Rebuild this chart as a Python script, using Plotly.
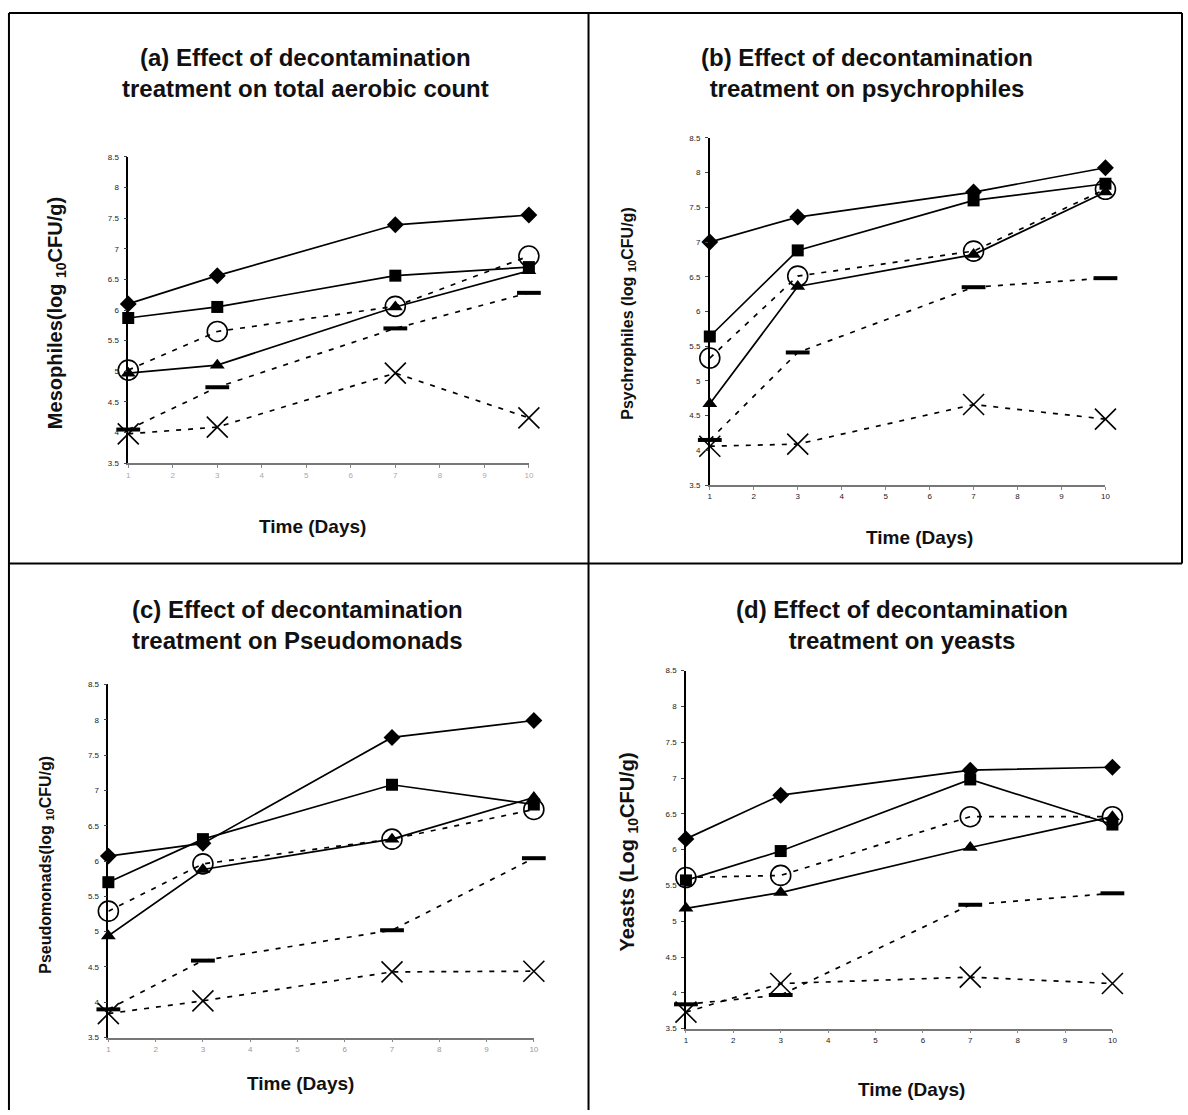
import plotly.graph_objects as go

days = [1, 3, 7, 10]
y_ticks = [3.5, 4, 4.5, 5, 5.5, 6, 6.5, 7, 7.5, 8, 8.5]
y_tick_text = ["3.5", "4", "4.5", "5", "5.5", "6", "6.5", "7", "7.5", "8", "8.5"]
x_ticks = [1, 2, 3, 4, 5, 6, 7, 8, 9, 10]

# (a) total aerobic count (mesophiles)
a_diamond = [6.10, 6.56, 7.39, 7.55]
a_square = [5.87, 6.05, 6.56, 6.70]
a_triangle = [4.97, 5.10, 6.05, 6.64]
a_circle = [5.02, 5.65, 6.06, 6.88]
a_dash = [4.05, 4.74, 5.70, 6.28]
a_cross = [3.98, 4.09, 4.97, 4.24]

# (b) psychrophiles
b_diamond = [7.00, 7.36, 7.72, 8.07]
b_square = [5.64, 6.88, 7.60, 7.84]
b_triangle = [4.67, 6.36, 6.82, 7.72]
b_circle = [5.33, 6.51, 6.87, 7.76]
b_dash = [4.15, 5.41, 6.35, 6.48]
b_cross = [4.06, 4.09, 4.66, 4.45]

# (c) Pseudomonads
c_diamond = [6.07, 6.25, 7.75, 7.99]
c_square = [5.70, 6.31, 7.08, 6.80]
c_triangle = [4.94, 5.88, 6.31, 6.90]
c_circle = [5.29, 5.96, 6.31, 6.73]
c_dash = [3.90, 4.59, 5.02, 6.04]
c_cross = [3.84, 4.02, 4.43, 4.44]

# (d) yeasts
d_diamond = [6.15, 6.76, 7.11, 7.15]
d_square = [5.57, 5.98, 6.98, 6.35]
d_triangle = [5.18, 5.40, 6.03, 6.46]
d_circle = [5.61, 5.64, 6.46, 6.46]
d_dash = [3.84, 3.97, 5.23, 5.39]
d_cross = [3.73, 4.13, 4.22, 4.13]

panels = [
    dict(key="a", series=[a_diamond, a_square, a_triangle, a_circle, a_dash, a_cross],
         title="(a) Effect of decontamination<br>treatment on total aerobic count",
         ytitle="Mesophiles(log <sub>10</sub>CFU/g)"),
    dict(key="b", series=[b_diamond, b_square, b_triangle, b_circle, b_dash, b_cross],
         title="(b) Effect of decontamination<br>treatment on psychrophiles",
         ytitle="Psychrophiles (log <sub>10</sub>CFU/g)"),
    dict(key="c", series=[c_diamond, c_square, c_triangle, c_circle, c_dash, c_cross],
         title="(c) Effect of decontamination<br>treatment on Pseudomonads",
         ytitle="Pseudomonads(log <sub>10</sub>CFU/g)"),
    dict(key="d", series=[d_diamond, d_square, d_triangle, d_circle, d_dash, d_cross],
         title="(d) Effect of decontamination<br>treatment on yeasts",
         ytitle="Yeasts (Log <sub>10</sub>CFU/g)"),
]

W, H = 1188, 1115
def px(x):
    return x / W
def py(y):
    return 1 - y / H

# layout geometry (pixels)
geom = {
    "a": dict(x0=127, x1=530, ytop=154, ybot=463, title_x=305, title_y=70,
              ytx=55, yty=312, ytsize=20, xtx=312, xty=527, xtcol="#aaa"),
    "b": dict(x0=712, x1=1110, ytop=135, ybot=485, title_x=870, title_y=70,
              ytx=630, yty=312, ytsize=16, xtx=923, xty=538, xtcol="#222"),
    "c": dict(x0=107, x1=535, ytop=686, ybot=1042, title_x=297, title_y=626,
              ytx=45, yty=868, ytsize=16, xtx=300, xty=1088, xtcol="#999"),
    "d": dict(x0=688, x1=1117, ytop=672, ybot=1033, title_x=905, title_y=626,
              ytx=630, yty=855, ytsize=20, xtx=915, xty=1094, xtcol="#222"),
}

styles = [
    dict(symbol="diamond", size=13, dash="solid", color="black", lw=0),
    dict(symbol="square", size=12, dash="solid", color="black", lw=0),
    dict(symbol="triangle-up", size=13, dash="solid", color="black", lw=0),
    dict(symbol="circle-open", size=20, dash="5px,7px", color="black", lw=1.6),
    dict(symbol="line-ew-open", size=17, dash="5px,7px", color="black", lw=4),
    dict(symbol="x-thin-open", size=21, dash="5px,7px", color="black", lw=1.6),
]
names = ["Diamond", "Square", "Triangle", "Circle", "Dash", "Cross"]

fig = go.Figure()
layout = dict(width=W, height=H, margin=dict(l=0, r=0, t=0, b=0),
              paper_bgcolor="white", plot_bgcolor="white", showlegend=False,
              font=dict(family="Liberation Sans, Arial, sans-serif", color="black"))
annotations = []
shapes = []

for i, p in enumerate(panels):
    g = geom[p["key"]]
    n = "" if i == 0 else str(i + 1)
    xa, ya = "xaxis" + n, "yaxis" + n
    for s, vals, nm in zip(styles, p["series"], names):
        fig.add_trace(go.Scatter(
            x=days, y=vals, mode="lines+markers", name=nm,
            xaxis="x" + n, yaxis="y" + n, cliponaxis=False,
            line=dict(color="black", width=1.7, dash=s["dash"]),
            marker=dict(symbol=s["symbol"], size=s["size"], color=s["color"],
                        line=dict(color="black", width=s["lw"])),
        ))
    layout[xa] = dict(domain=[px(g["x0"]), px(g["x1"])], range=[1, 10], anchor="y" + n,
                      tickvals=x_ticks, ticks="outside", ticklen=3, tickcolor="#888",
                      showline=True, linecolor="#777", linewidth=1.5,
                      showgrid=False, zeroline=False,
                      tickfont=dict(size=8, color=g["xtcol"]))
    layout[ya] = dict(domain=[py(g["ybot"]), py(g["ytop"])], range=[3.5, 8.5], anchor="x" + n,
                      tickvals=y_ticks, ticktext=y_tick_text, ticks="outside", ticklen=3,
                      ticklabelstandoff=3,
                      showline=True, linecolor="black", linewidth=1.5,
                      showgrid=False, zeroline=False,
                      tickfont=dict(size=8, color="#222"))
    annotations.append(dict(text="<b>" + p["title"] + "</b>", x=px(g["title_x"]), y=py(g["title_y"]),
                            xref="paper", yref="paper", showarrow=False,
                            font=dict(size=24, color="#111"), xanchor="center", yanchor="middle"))
    annotations.append(dict(text="<b>" + p["ytitle"] + "</b>", x=px(g["ytx"]), y=py(g["yty"]),
                            xref="paper", yref="paper",
                            showarrow=False, textangle=-90,
                            font=dict(size=g["ytsize"], color="#111"),
                            xanchor="center", yanchor="middle"))
    annotations.append(dict(text="<b>Time (Days)</b>", x=px(g["xtx"]), y=py(g["xty"]),
                            xref="paper", yref="paper", showarrow=False,
                            font=dict(size=19, color="#111"), xanchor="center", yanchor="middle"))

# panel frame lines
def hline(x0, x1, y):
    return dict(type="line", xref="paper", yref="paper", x0=px(x0), x1=px(x1), y0=py(y), y1=py(y),
                line=dict(color="black", width=2))
def vline(x, y0, y1):
    return dict(type="line", xref="paper", yref="paper", x0=px(x), x1=px(x), y0=py(y0), y1=py(y1),
                line=dict(color="black", width=2))
shapes += [hline(7, 1187, 9), hline(7, 1187, 564), vline(7, 9, 1115), vline(590, 9, 1115),
           vline(1187, 9, 564)]

layout["annotations"] = annotations
layout["shapes"] = shapes
fig.update_layout(**layout)
fig.write_html("out.html")
